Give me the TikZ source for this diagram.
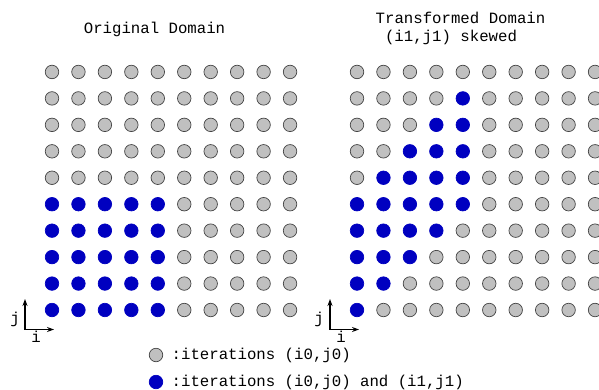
\documentclass[tikz,border=0pt]{standalone}
\usepackage{fontspec}
\setmainfont{Liberation Mono}
\usetikzlibrary{arrows.meta}
\definecolor{dotgrey}{HTML}{C0C0C0}
\definecolor{dotedge}{HTML}{444444}
\definecolor{dotblue}{HTML}{0000C0}
\tikzset{
  gdot/.style={circle,fill=dotgrey,draw=dotedge,line width=0.7pt,minimum size=13.5pt,inner sep=0pt},
  bdot/.style={circle,fill=dotblue,draw=dotblue,line width=0.7pt,minimum size=13.5pt,inner sep=0pt},
  txt/.style={font=\fontsize{15.7}{18}\selectfont,inner sep=0pt},
  axis/.style={-{Stealth[length=7pt,width=5pt]},line width=1.2pt,black},
}
\begin{document}
\begin{tikzpicture}[x=1pt,y=-1pt]
\useasboundingbox (0,0) rectangle (599,389);
% titles
\node[txt,anchor=base] (t1) at (154.5,33) {Original Domain};
\node[txt,anchor=base] (t2) at (460.5,23) {Transformed Domain};
\node[txt,anchor=base] (t3) at (451,41.5) {(i1,j1) skewed};
% original grid
\foreach \i in {0,...,9}{
  \foreach \j in {0,...,9}{
    \pgfmathtruncatemacro{\isblue}{(\i<5)&&(\j<5)?1:0}
    \ifnum\isblue=1
      \node[bdot] (L-\i-\j) at (52+26.45*\i,310-26.45*\j) {};
    \else
      \node[gdot] (L-\i-\j) at (52+26.45*\i,310-26.45*\j) {};
    \fi
  }
}
% transformed grid
\foreach \i in {0,...,9}{
  \foreach \j in {0,...,9}{
    \pgfmathtruncatemacro{\isblue}{(\i<5)&&(\j>=\i)&&(\j<=\i+4)?1:0}
    \ifnum\isblue=1
      \node[bdot] (R-\i-\j) at (357+26.45*\i,310-26.45*\j) {};
    \else
      \node[gdot] (R-\i-\j) at (357+26.45*\i,310-26.45*\j) {};
    \fi
  }
}
% axes left
\coordinate (oL) at (25,329.5);
\coordinate (jL) at (25,299);
\coordinate (iL) at (54,329.5);
\draw[axis] (oL) -- (jL);
\draw[axis] (oL) -- (iL);
\node[txt] (jlabL) at (15,319) {j};
\node[txt] (ilabL) at (36,337) {i};
% axes right
\coordinate (oR) at (330,329.5);
\coordinate (jR) at (330,299);
\coordinate (iR) at (359,329.5);
\draw[axis] (oR) -- (jR);
\draw[axis] (oR) -- (iR);
\node[txt] (jlabR) at (319,319) {j};
\node[txt] (ilabR) at (341,337) {i};
% legend
\node[gdot] (lg1) at (156,355) {};
\node[txt,anchor=base west] (lt1) at (171.5,359.5) {:iterations (i0,j0)};
\node[bdot] (lg2) at (156,382) {};
\node[txt,anchor=base west] (lt2) at (171.5,386.5) {:iterations (i0,j0) and (i1,j1)};
\end{tikzpicture}
\end{document}
